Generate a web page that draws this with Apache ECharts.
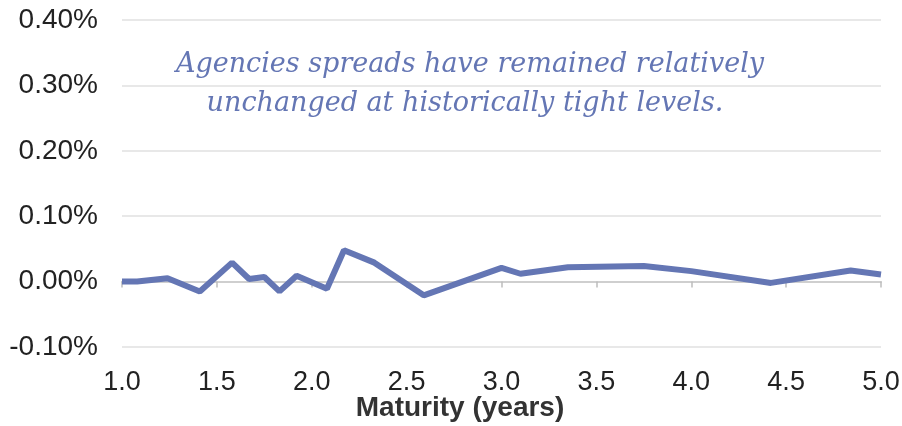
<!DOCTYPE html>
<html>
<head>
<meta charset="utf-8">
<script src="https://cdn.jsdelivr.net/npm/echarts@6/dist/echarts.min.js"></script>
<style>
  html, body { margin: 0; padding: 0; background: #fff; }
  #chart { width: 902px; height: 426px; }
</style>
</head>
<body>
<div id="chart"></div>
<script>
// maturity in years, spread in percent
const maturity = [1.0, 1.08, 1.24, 1.41, 1.58, 1.67, 1.75, 1.83, 1.92, 2.08, 2.17, 2.33, 2.59, 3.0, 3.1, 3.35, 3.75, 4.0, 4.42, 4.84, 5.0];
const spread   = [0.0, 0.0, 0.005, -0.015, 0.029, 0.004, 0.007, -0.015, 0.009, -0.011, 0.048, 0.029, -0.021, 0.021, 0.012, 0.022, 0.024, 0.016, -0.002, 0.017, 0.011];
const annotation = ['Agencies spreads have remained relatively', 'unchanged at historically tight levels.'];
const xTitle = 'Maturity (years)';

const lineColor = '#6476b4';
const gridColor = '#e0e0e0';
const sans = '"Liberation Sans", Arial, sans-serif';

const chart = echarts.init(document.getElementById('chart'), null, { renderer: 'canvas' });

const xCommon = {
  type: 'value',
  min: 1,
  max: 5,
  interval: 0.5,
  splitLine: { show: false }
};

chart.setOption({
  animation: false,
  backgroundColor: '#fff',
  grid: { left: 122, right: 21, top: 20, bottom: 79, outerBoundsMode: 'none', containLabel: false },
  xAxis: [
    {
      ...xCommon,
      position: 'bottom',
      axisLine: { onZero: true, lineStyle: { color: '#cfcfcf', width: 2 } },
      axisTick: { show: true, length: 6, lineStyle: { color: '#bdbdbd', width: 1.5 } },
      axisLabel: { show: false }
    },
    {
      ...xCommon,
      position: 'bottom',
      axisLine: { show: false, onZero: false },
      axisTick: { show: false },
      axisLabel: {
        show: true,
        margin: 22,
        color: '#222',
        fontFamily: sans,
        fontSize: 27,
        formatter: (v) => v.toFixed(1)
      }
    }
  ],
  yAxis: {
    type: 'value',
    min: -0.1,
    max: 0.4,
    interval: 0.1,
    axisLine: { show: false },
    axisTick: { show: false },
    splitLine: { lineStyle: { color: gridColor, width: 1.5 } },
    axisLabel: {
      margin: 24,
      color: '#222',
      fontFamily: sans,
      fontSize: 28,
      formatter: (v) => v.toFixed(2) + '%'
    }
  },
  graphic: [
    {
      type: 'text',
      x: 470,
      y: 65,
      style: {
        text: annotation[0],
        align: 'center',
        verticalAlign: 'middle',
        fill: lineColor,
        font: 'italic 27px "DejaVu Serif", Georgia, serif'
      }
    },
    {
      type: 'text',
      x: 465,
      y: 104,
      style: {
        text: annotation[1],
        align: 'center',
        verticalAlign: 'middle',
        fill: lineColor,
        font: 'italic 27px "DejaVu Serif", Georgia, serif'
      }
    },
    {
      type: 'text',
      x: 460,
      y: 408,
      style: {
        text: xTitle,
        align: 'center',
        verticalAlign: 'middle',
        fill: '#333',
        font: 'bold 28px ' + sans
      }
    }
  ],
  series: [{
    type: 'line',
    xAxisIndex: 0,
    data: maturity.map((m, i) => [m, spread[i]]),
    showSymbol: false,
    lineStyle: { color: lineColor, width: 6 },
    z: 5
  }]
});
</script>
</body>
</html>
